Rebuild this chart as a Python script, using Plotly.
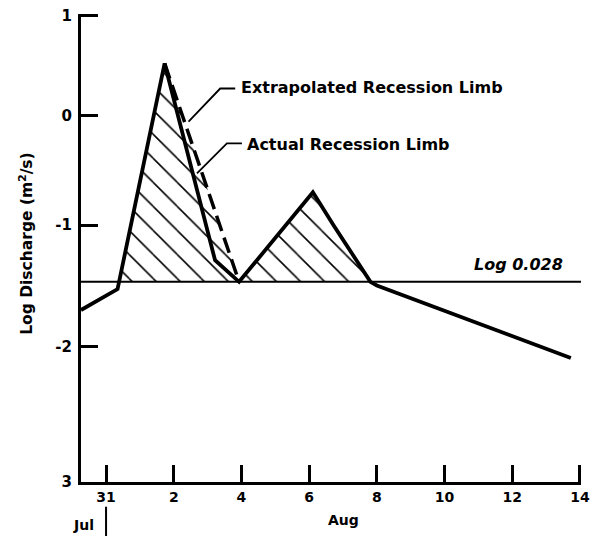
import numpy as np
import plotly.graph_objects as go

# ---------------- data ----------------
# x: days counted from 31 July (0 = Jul 31, 2 = Aug 2, ...)
hydro_days = [-0.74, 0.34, 1.73, 3.22, 3.93, 6.11, 6.72, 7.81, 8.0, 13.73]
hydro_log_q = [-1.71, -1.54, 0.51, -1.30, -1.48, -0.71, -1.00, -1.48, -1.51, -2.09]

extrap_days = [1.73, 3.93]
extrap_log_q = [0.51, -1.48]

baseline_log_q = -1.48
baseline_label = "Log 0.028"

x_tick_vals = [0, 2, 4, 6, 8, 10, 12, 14]
x_tick_text = ["31", "2", "4", "6", "8", "10", "12", "14"]
y_tick_vals = [1, 0, -1, -2, -3]
y_tick_text = ["1", "0", "-1", "-2", "3"]

# The reference's vertical axis is not evenly spaced (gaps widen downward);
# it is reproduced with Plotly's log axis applied to (value + Y_OFFSET).
Y_OFFSET = 11.0
X_RANGE = [-0.74, 14.03]
Y_RANGE = [-3, 1.015]


def ys(vals):
    return [v + Y_OFFSET for v in vals]


# hatched area: from the point where the rising limb crosses the baseline,
# over the extrapolated limb and the second event, back along the baseline
u = lambda v: np.log10(v + Y_OFFSET)
t = (u(baseline_log_q) - u(hydro_log_q[1])) / (u(hydro_log_q[2]) - u(hydro_log_q[1]))
cross_day = hydro_days[1] + t * (hydro_days[2] - hydro_days[1])
hatch_x = [cross_day] + extrap_days + hydro_days[5:8]
hatch_y = [baseline_log_q] + extrap_log_q + hydro_log_q[5:8]

FONT = "DejaVu Sans"

fig = go.Figure()

fig.add_trace(go.Scatter(
    x=hatch_x, y=ys(hatch_y), mode="lines", fill="toself",
    line=dict(width=0, color="rgba(0,0,0,0)"),
    fillcolor="rgba(0,0,0,0)",
    fillpattern=dict(shape="\\", size=17, solidity=0.09,
                     fgcolor="black", bgcolor="rgba(0,0,0,0)", fillmode="replace"),
    hoverinfo="skip", showlegend=False))

fig.add_trace(go.Scatter(
    x=X_RANGE, y=ys([baseline_log_q, baseline_log_q]), mode="lines",
    line=dict(color="black", width=2), showlegend=False))

fig.add_trace(go.Scatter(
    x=extrap_days, y=ys(extrap_log_q), mode="lines",
    line=dict(color="black", width=3.5, dash="16px,7px"), showlegend=False))

fig.add_trace(go.Scatter(
    x=hydro_days, y=ys(hydro_log_q), mode="lines",
    line=dict(color="black", width=3.8), showlegend=False))

txt = dict(family=FONT, size=16, color="black", weight="bold")

annotations = [
    dict(text="Extrapolated Recession Limb", x=0.3164, y=0.8419, xanchor="left", yanchor="middle"),
    dict(text="Actual Recession Limb", x=0.3284, y=0.7222, xanchor="left", yanchor="middle"),
    dict(text=baseline_label, x=0.7815, y=0.4637, xanchor="left", yanchor="middle",
         font=dict(family=FONT, size=16, color="black", weight="bold", style="italic")),
    dict(text="Log Discharge (m<sup>2</sup>/s)", x=-0.1093, y=0.5096, textangle=-90,
         xanchor="center", yanchor="middle", font=dict(family=FONT, size=15.5, color="black", weight="bold")),
    dict(text="Jul", x=0.0046, y=-0.0919, xanchor="center", yanchor="middle",
         font=dict(family=FONT, size=14, color="black", weight="bold")),
    dict(text="Aug", x=0.5243, y=-0.0812, xanchor="center", yanchor="middle",
         font=dict(family=FONT, size=14, color="black", weight="bold")),
]
for a in annotations:
    a.setdefault("font", txt)
    a.update(xref="paper", yref="paper", showarrow=False)

shapes = [
    dict(type="path", xref="paper", yref="paper",
         path="M 0.2151 0.7699 L 0.2784 0.8408 L 0.3084 0.8408",
         line=dict(color="black", width=1.8)),
    dict(type="path", xref="paper", yref="paper",
         path="M 0.2319 0.6596 L 0.2918 0.7237 L 0.3218 0.7237",
         line=dict(color="black", width=1.8)),
    dict(type="line", xref="x", yref="paper", x0=0, x1=0, y0=-0.0528, y1=-0.1154,
         line=dict(color="black", width=2)),
]

axis_common = dict(showgrid=False, zeroline=False, showline=True, linecolor="black",
                   linewidth=3, ticks="inside", ticklen=17, tickwidth=2.5, tickcolor="black",
                   automargin=False, ticklabeloverflow="allow",
                   tickfont=dict(family=FONT, size=15, color="black", weight="bold"))

# the page body adds an 8px offset, so the figure is sized to fit inside it
fig.update_layout(
    width=591, height=528,
    margin=dict(l=73, r=18, t=6, b=54, autoexpand=False),
    paper_bgcolor="white", plot_bgcolor="white",
    showlegend=False,
    xaxis=dict(range=X_RANGE, tickmode="array", tickvals=x_tick_vals, ticktext=x_tick_text,
               **axis_common),
    yaxis=dict(type="log", range=[np.log10(Y_RANGE[0] + Y_OFFSET), np.log10(Y_RANGE[1] + Y_OFFSET)],
               tickmode="array", tickvals=ys(y_tick_vals), ticktext=y_tick_text,
               ticklabelstandoff=3, **axis_common),
    annotations=annotations,
    shapes=shapes,
)
fig.update_xaxes(tickfont=dict(size=14))

fig.write_html("out.html")
